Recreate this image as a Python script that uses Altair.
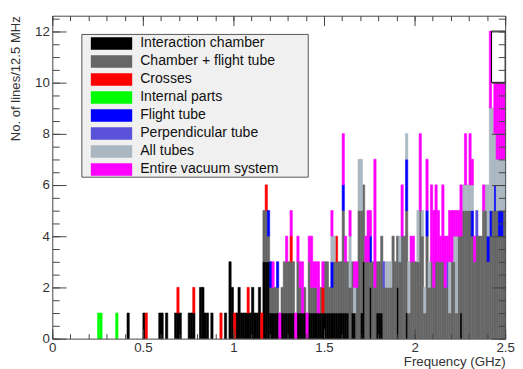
import altair as alt
import pandas as pd

BIN_WIDTH = 0.0125  # GHz (12.5 MHz bins)

series_names = ["Interaction chamber", "Chamber + flight tube", "Crosses", "Internal parts",
                "Flight tube", "Perpendicular tube", "All tubes", "Entire vacuum system"]
series_colors = ["#000000", "#666666", "#ff0000", "#00ff00",
                 "#0000ff", "#5a52d9", "#aab7c1", "#ff00ff"]

# bin index (12.5 MHz bins) and number of lines, per series
ic_bins = [33, 40, 47, 48, 50, 54, 55, 56, 60, 61, 62, 65, 66, 67, 68, 70, 76, 78, 79, 81, 82, 83, 84, 85,
           86, 87, 88, 89, 90, 91, 93, 94, 95, 96, 97, 98, 99, 101, 102, 103, 104, 105, 106, 108, 109,
           110, 111, 113, 114, 115, 116, 117, 118, 119, 120, 121, 122, 123, 124, 125, 126, 127, 128,
           129, 130, 132, 133, 136, 137, 140, 143, 144, 145, 152, 156, 180]
ic_counts = [1, 1, 1, 1, 1, 1, 1, 1, 1, 1, 1, 2, 2, 1, 1, 1, 1, 3, 2, 1, 2, 1, 1, 1,
             1, 1, 2, 1, 1, 2, 3, 3, 3, 1, 1, 1, 1, 1, 1, 1, 1, 1, 1, 1, 1,
             1, 1, 1, 1, 1, 1, 1, 1, 1, 1, 1, 1, 1, 1, 1, 1, 1, 1,
             1, 1, 1, 1, 1, 3, 2, 1, 1, 1, 2, 1, 1]

cft_bins = [93, 94, 95, 96, 97, 98, 99, 101, 102, 103, 104, 105, 106, 108, 109, 111, 113, 114, 115, 116,
            118, 120, 121, 122, 123, 124, 125, 126, 127, 128, 129, 130, 131, 132, 134, 135, 136, 137,
            138, 139, 140, 141, 142, 143, 144, 145, 146, 147, 148, 149, 150, 151, 152, 153, 154, 155,
            156, 157, 158, 159, 160, 161, 162, 163, 164, 165, 166, 167, 168, 169, 170, 171, 172, 173,
            174, 175, 176, 177, 178, 179, 180, 181, 182, 183, 184, 185, 186, 187, 188, 189, 190, 191,
            192, 193, 194, 195, 196, 197, 198, 199]
cft_counts = [2, 2, 1, 1, 1, 1, 1, 1, 2, 2, 2, 2, 2, 2, 1, 1, 2, 1, 1, 1,
              1, 2, 2, 1, 1, 2, 2, 2, 2, 4, 2, 2, 2, 2, 2, 5, 4, 3,
              3, 3, 1, 3, 2, 2, 2, 3, 2, 2, 2, 2, 4, 3, 2, 3, 4, 4,
              4, 1, 3, 3, 3, 3, 5, 4, 1, 4, 2, 3, 2, 3, 3, 3, 3, 2,
              2, 1, 3, 3, 1, 4, 3, 5, 5, 5, 5, 4, 3, 4, 4, 4, 5, 5,
              3, 4, 5, 5, 5, 4, 4, 5]

cr_bins = [41, 55, 62, 74, 80, 86, 92, 94, 105, 119, 125]
cr_counts = [1, 1, 1, 1, 1, 1, 1, 1, 1, 1, 1]

ip_bins = [20, 21, 28]
ip_counts = [1, 1, 1]

ft_bins = [95, 96, 99, 123, 128, 140, 156, 165, 185, 192, 193, 195, 197, 198]
ft_counts = [1, 1, 1, 1, 1, 1, 2, 1, 1, 1, 1, 1, 1, 1]

pt_bins = [146, 174, 187]
pt_counts = [1, 1, 1]

at_bins = [123, 124, 131, 133, 135, 136, 147, 148, 149, 153, 156, 157, 161, 163, 164, 166, 175, 177,
           178, 181, 182, 183, 184, 185, 191, 192, 193, 194, 195, 196, 197, 198, 199]
at_counts = [1, 1, 2, 1, 2, 2, 1, 1, 1, 1, 1, 2, 2, 1, 1, 1, 2, 1,
             3, 1, 1, 1, 1, 1, 1, 2, 4, 4, 2, 2, 2, 2, 2]

ev_bins = [97, 100, 103, 105, 107, 108, 109, 110, 112, 113, 114, 115, 116, 117, 119, 123, 128, 129,
           131, 133, 134, 138, 139, 140, 142, 154, 158, 159, 162, 165, 167, 168, 169, 170, 171, 172,
           173, 174, 175, 176, 177, 178, 179, 180, 182, 184, 185, 186, 190, 193, 195, 196, 197, 198, 199]
ev_counts = [1, 1, 1, 1, 1, 1, 1, 2, 1, 1, 2, 1, 1, 2, 1, 1, 2, 1,
             1, 1, 1, 1, 2, 1, 5, 2, 1, 1, 3, 2, 3, 3, 3, 2, 1, 3,
             2, 1, 2, 2, 1, 1, 1, 2, 2, 2, 1, 1, 1, 3, 2, 3, 3, 3, 3]

# hollow outlined box at the top right of the histogram
box_x0 = [2.425]
box_x1 = [2.5]
box_y0 = [10]
box_y1 = [12]

x_major = [0, 0.5, 1, 1.5, 2, 2.5]
x_minor = [i / 10 for i in range(26)]
y_major = [0, 2, 4, 6, 8, 10, 12]
y_minor = [i / 2 for i in range(26)]

all_bins = [ic_bins, cft_bins, cr_bins, ip_bins, ft_bins, pt_bins, at_bins, ev_bins]
all_counts = [ic_counts, cft_counts, cr_counts, ip_counts, ft_counts, pt_counts, at_counts, ev_counts]

rows = []
for k, (name, bins, counts) in enumerate(zip(series_names, all_bins, all_counts)):
    for b, c in zip(bins, counts):
        rows.append({"series": name, "order": k, "bin": b,
                     "f0": b * BIN_WIDTH, "f1": (b + 1) * BIN_WIDTH, "n": c})
df = pd.DataFrame(rows)
box_df = pd.DataFrame({"x0": box_x0, "x1": box_x1, "y0": box_y0, "y1": box_y1})
anchor_df = pd.DataFrame({"x": [x_major[0]], "y": [y_major[0]]})

W, H = 460, 328
FONT = "Liberation Sans"
AX = "#444444"
TXT = "#333333"

xscale = alt.Scale(domain=[0, 2.5], nice=False, zero=False)
yscale = alt.Scale(domain=[0, 12.6], nice=False, zero=False)
cscale = alt.Scale(domain=series_names, range=series_colors)

bars = alt.Chart(df).transform_stack(
    stack="n", groupby=["bin"], as_=["y0", "y1"],
    sort=[alt.SortField("order", order="ascending")]
).mark_rect(strokeWidth=0.6).encode(
    x=alt.X("f0:Q", scale=xscale, axis=alt.Axis(
        orient="bottom", values=x_major, format="~g", ticks=False, domain=False, grid=False,
        labelFont=FONT, labelFontSize=13.5, labelColor=TXT, labelPadding=2,
        labelFlush=False, labelOverlap=False,
        title="Frequency (GHz)", titleFont=FONT, titleFontSize=13.5, titleFontWeight="normal",
        titleColor=TXT, titleX=W, titleY=27, titleAlign="right", titleBaseline="alphabetic")),
    x2="f1:Q",
    y=alt.Y("y0:Q", scale=yscale, axis=alt.Axis(
        orient="left", values=y_major, ticks=False, domain=False, grid=False,
        labelFont=FONT, labelFontSize=13.5, labelColor=TXT, labelPadding=3,
        labelFlush=False, labelOverlap=False,
        title="No. of lines/12.5 MHz", titleFont=FONT, titleFontSize=13.3, titleFontWeight="normal",
        titleColor=TXT, titleX=-37, titleY=0, titleAngle=270, titleAlign="right",
        titleBaseline="middle")),
    y2="y1:Q",
    color=alt.Color("series:N", scale=cscale,
                    legend=alt.Legend(
                        title="", orient="none", legendX=53, legendY=21, padding=0,
                        symbolType="M-3,-0.9H3V0.9H-3Z", symbolSize=196, symbolStrokeWidth=0,
                        symbolOpacity=1, labelFont=FONT, labelFontSize=14.3, labelColor="#111111",
                        labelOffset=22, rowPadding=3.3)),
    stroke=alt.Stroke("series:N", scale=cscale, legend=None),
)

outline = alt.Chart(box_df).mark_rect(fill="white", stroke="black", strokeWidth=1).encode(
    x=alt.X("x0:Q", scale=xscale, axis=None), x2="x1:Q",
    y=alt.Y("y0:Q", scale=yscale, axis=None), y2="y1:Q")

legend_box = alt.Chart(anchor_df).mark_rect(fill="#f0f0f0", stroke="#555555", strokeWidth=1).encode(
    x=alt.value(30), x2=alt.value(260), y=alt.value(19), y2=alt.value(164))


def tick_layer(x_orient, y_orient, xvals, yvals, xsize, ysize, domain):
    return alt.Chart(anchor_df).mark_point(opacity=0).encode(
        x=alt.X("x:Q", scale=xscale, axis=alt.Axis(
            orient=x_orient, offset=-H, values=xvals, labels=False, grid=False, domain=domain,
            domainColor=AX, ticks=True, tickSize=xsize, tickColor=AX, title="", zindex=1)),
        y=alt.Y("y:Q", scale=yscale, axis=alt.Axis(
            orient=y_orient, offset=-W, values=yvals, labels=False, grid=False, domain=domain,
            domainColor=AX, ticks=True, tickSize=ysize, tickColor=AX, title="", zindex=1)),
    )


t1 = tick_layer("top", "right", x_major, y_major, 10, 14, True)
t2 = tick_layer("top", "right", x_minor, y_minor, 5, 7, False)
t3 = tick_layer("bottom", "left", x_major, y_major, 10, 14, True)
t4 = tick_layer("bottom", "left", x_minor, y_minor, 5, 7, False)

chart = alt.layer(bars, outline, legend_box, t1, t2, t3, t4).resolve_axis(
    x="independent", y="independent"
).properties(
    width=W, height=H, autosize="none",
    padding={"left": 45, "top": 5, "right": 10, "bottom": 28},
    background="white",
).configure_view(stroke=None)

chart.save("out.html", embed_options={"renderer": "svg", "actions": False})
